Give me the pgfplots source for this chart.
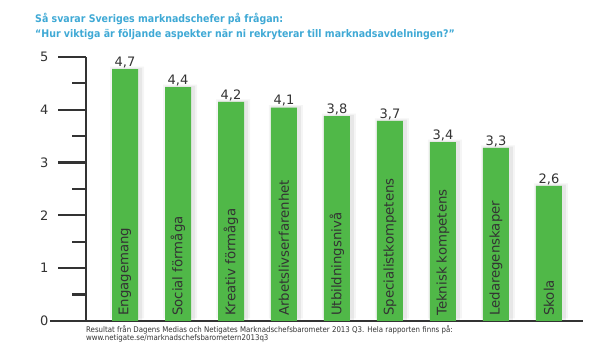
\documentclass[border=0pt]{standalone}
\usepackage{fontspec}
\setmainfont{DejaVu Sans}
\newfontfamily\condfont{DejaVu Sans Condensed}
\usepackage{pgfplots}
\usepackage{pgfplotstable}
\pgfplotsset{compat=1.18}
\definecolor{bargreen}{HTML}{50B848}
\definecolor{titleblue}{HTML}{3FA9D5}
\definecolor{axisgray}{HTML}{333333}
\pgfplotstableread[col sep=semicolon]{
x;y;lab
0;4.77;4,7
1;4.43;4,4
2;4.15;4,2
3;4.04;4,1
4;3.88;3,8
5;3.79;3,7
6;3.39;3,4
7;3.28;3,3
8;2.56;2,6
}\vals
\begin{document}
\begin{tikzpicture}
\path (0pt,0pt) rectangle (600pt,350pt);
\node[anchor=base west, font=\condfont\bfseries\fontsize{10.5}{13}\selectfont, text=titleblue, inner sep=0] at (35pt,327.5pt) {Så svarar Sveriges marknadschefer på frågan:};
\node[anchor=base west, font=\condfont\bfseries\fontsize{10.5}{13}\selectfont, text=titleblue, inner sep=0] at (35pt,312.5pt) {“Hur viktiga är följande aspekter när ni rekryterar till marknadsavdelningen?”};
\begin{axis}[
  at={(86pt,29pt)}, anchor=south west,
  scale only axis, width=497pt, height=264pt,
  xmin=-0.736, xmax=8.642, ymin=0, ymax=5,
  axis x line*=bottom, axis y line*=left,
  xtick=\empty, ytick={0,1,2,3,4,5},
  major tick length=0pt,
  axis line style={axisgray, line width=1.8pt, -},
  yticklabel style={font=\fontsize{13}{13}\selectfont, text=axisgray, xshift=-34pt},
  /pgf/number format/assume math mode=true,
  clip=false,
]
\addplot[ybar, bar width=34pt, bar shift=2pt, fill=black, fill opacity=0.04, draw=none, yshift=2.5pt] table[x=x, y=y] {\vals};
\addplot[ybar, bar width=30pt, bar shift=2pt, fill=black, fill opacity=0.06, draw=none, yshift=1.2pt] table[x=x, y=y] {\vals};
\addplot[ybar, bar width=26pt, bar shift=0pt, fill=bargreen, draw=none,
  nodes near coords, point meta=explicit symbolic,
  nodes near coords style={font=\fontsize{13}{13}\selectfont, text=axisgray, anchor=south, inner sep=1pt}]
  table[x=x, y=y, meta=lab] {\vals};
\addplot[draw=none, mark=none, nodes near coords, point meta=explicit symbolic,
  nodes near coords style={font=\fontsize{13.3}{13.3}\selectfont, text=axisgray, rotate=90, anchor=west, inner sep=5pt}]
  table[meta=lab, col sep=semicolon] {
x;y;lab
0;0;Engagemang
1;0;Social förmåga
2;0;Kreativ förmåga
3;0;Arbetslivserfarenhet
4;0;Utbildningsnivå
5;0;Specialistkompetens
6;0;Teknisk kompetens
7;0;Ledaregenskaper
8;0;Skola
};
\pgfplotsinvokeforeach{1,2,3,4,5}{\draw[axisgray, line width=2.2pt] (axis cs:-0.736,#1) -- ++(-28pt,0pt);}
\pgfplotsinvokeforeach{0.5,1.5,2.5,3.5,4.5}{\draw[axisgray, line width=2.2pt] (axis cs:-0.736,#1) -- ++(-14pt,0pt);}
\draw[axisgray, line width=2pt] (rel axis cs:0,0) -- ++(-36pt,0pt);
\end{axis}
\node[anchor=base west, font=\condfont\fontsize{7.8}{9}\selectfont, text=axisgray, inner sep=0] at (86pt,17pt) {Resultat från Dagens Medias och Netigates Marknadschefsbarometer 2013 Q3. Hela rapporten finns på:};
\node[anchor=base west, font=\condfont\fontsize{7.8}{9}\selectfont, text=axisgray, inner sep=0] at (86pt,9pt) {www.netigate.se/marknadschefsbarometern2013q3};
\end{tikzpicture}
\end{document}
